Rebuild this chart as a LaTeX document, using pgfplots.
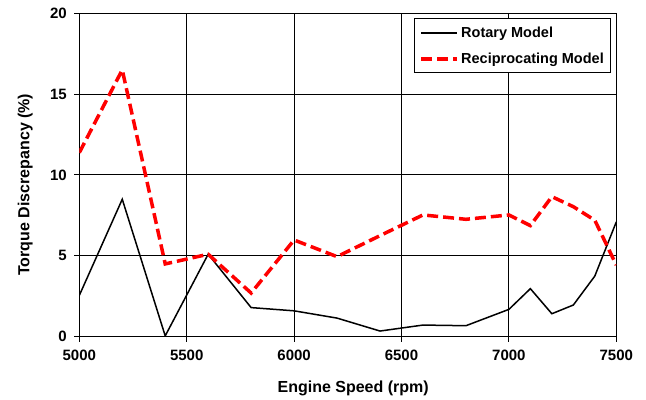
\documentclass[border=0pt]{standalone}
\usepackage{fontspec}
\setmainfont{Liberation Sans}
\usepackage{pgfplots}
\pgfplotsset{compat=1.18}

\definecolor{recipred}{RGB}{255,0,0}

\begin{document}
\begin{tikzpicture}
% fixed page frame around the plot box
\path[use as bounding box] (-79.3bp,-63.3bp) rectangle (566.7bp,336.7bp);
\begin{axis}[
  at={(0,0)}, anchor=south west,
  scale only axis,
  width=537bp, height=323.4bp,
  xmin=5000, xmax=7500,
  ymin=0, ymax=20,
  xtick={5000,5500,6000,6500,7000,7500},
  ytick={0,5,10,15,20},
  grid=major,
  grid style={black, line width=1bp},
  axis line style={black, line width=1bp},
  tick style={black, line width=1bp},
  tick align=outside,
  major tick length=5bp,
  xtick pos=bottom, ytick pos=left,
  /pgf/number format/assume math mode=true,
  /pgf/number format/1000 sep={},
  ticklabel style={font=\fontsize{15bp}{17bp}\selectfont\bfseries},
  xticklabel style={yshift=-5bp},
  yticklabel style={xshift=-4bp},
  xlabel={Engine Speed (rpm)},
  ylabel={Torque Discrepancy (\%)},
  label style={font=\fontsize{16bp}{18bp}\selectfont\bfseries},
  xlabel style={at={([yshift=-56bp]axis description cs:0.51,0)}, anchor=base},
  ylabel style={at={([xshift=-54bp]axis description cs:0,0.47)}, anchor=center},
  legend cell align=left,
  legend style={
    at={([xshift=-5bp,yshift=-5bp]axis description cs:1,1)},
    anchor=north east,
    draw=black, line width=1bp, fill=white,
    font=\fontsize{14.5bp}{17bp}\selectfont\bfseries,
    inner xsep=5bp, inner ysep=6bp,
    row sep=10bp,
  },
  legend image code/.code={\draw[#1] (0bp,0bp) -- (36bp,0bp);},
]
% rotary engine model
\addplot[black, line width=1.5bp] coordinates {
  (5000,2.55) (5200,8.5) (5400,0.05) (5600,5.1) (5800,1.8)
  (6000,1.6) (6200,1.15) (6400,0.35) (6600,0.72) (6800,0.68)
  (7000,1.69) (7100,2.97) (7200,1.42) (7300,1.96) (7400,3.75)
  (7500,7.1)
};
\addlegendentry{Rotary Model}
% reciprocating engine model
\addplot[recipred, line width=3.5bp, dash pattern=on 11bp off 5bp] coordinates {
  (5000,11.38) (5200,16.5) (5400,4.5) (5600,5.1) (5800,2.7)
  (6000,5.98) (6200,4.95) (6400,6.25) (6600,7.53) (6800,7.26)
  (7000,7.53) (7100,6.87) (7200,8.66) (7300,8.04) (7400,7.2)
  (7500,4.43)
};
\addlegendentry{Reciprocating Model}
\end{axis}
\end{tikzpicture}
\end{document}
